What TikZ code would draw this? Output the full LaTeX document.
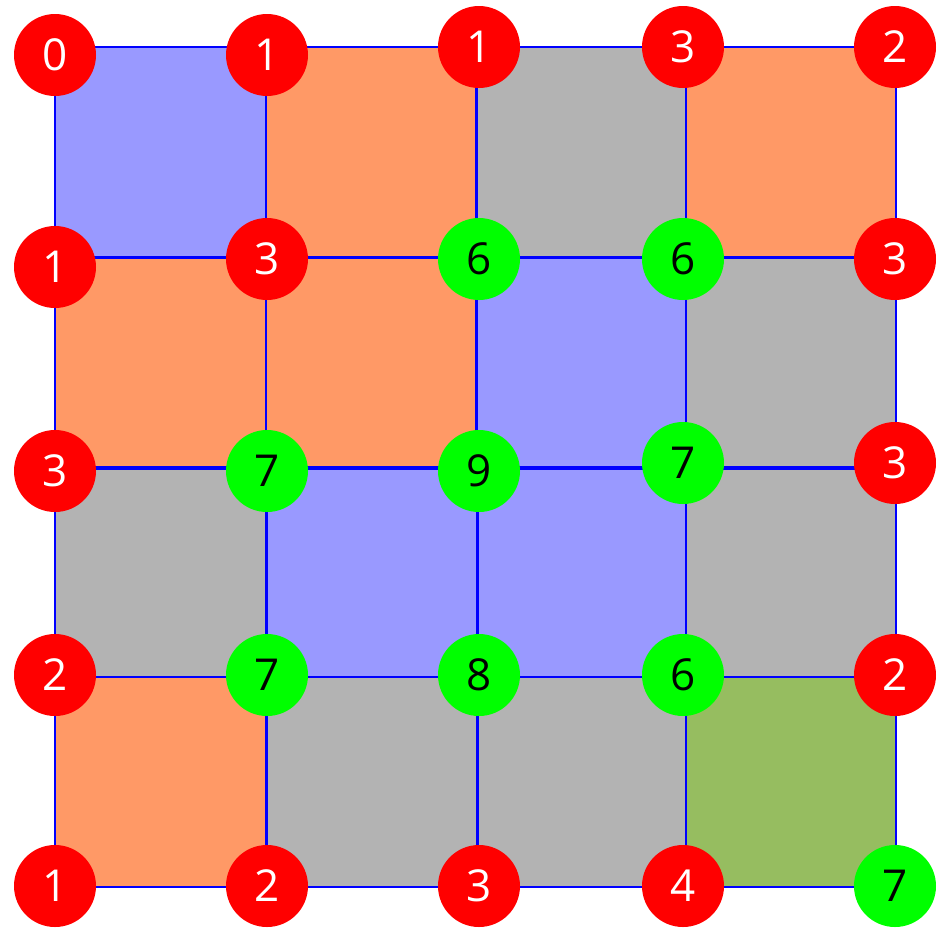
\documentclass[tikz,border=0pt]{standalone}
\usepackage{fontspec}
\setmainfont{Open Sans}
\definecolor{sqblue}{RGB}{153,153,255}
\definecolor{sqorange}{RGB}{255,153,102}
\definecolor{sqgray}{RGB}{179,179,179}
\definecolor{sqgreen}{RGB}{150,189,96}
\definecolor{vred}{RGB}{255,0,0}
\definecolor{vgreen}{RGB}{0,255,0}
\begin{document}
\begin{tikzpicture}[x=1pt,y=-1pt,
  cell/.style={draw=blue, line width=2pt},
  vbase/.style={circle, minimum size=82pt, inner sep=0pt, font=\fontsize{44}{44}\selectfont},
  rv/.style={vbase, fill=vred, text=white},
  gv/.style={vbase, fill=vgreen, text=black}]
\useasboundingbox (0,0) rectangle (940,927);
% squares
\def\sq#1#2#3#4#5{\filldraw[cell, fill=#5] (#1,#2) rectangle (#3,#4);}
% row 0
\sq{55}{47}{266}{257}{sqblue}
\sq{266}{47}{476}{257}{sqorange}
\sq{477}{47}{686}{257}{sqgray}
\sq{686}{47}{896}{257}{sqorange}
% row 1
\sq{55}{258}{266}{467}{sqorange}
\sq{266}{258}{476}{467}{sqorange}
\sq{477}{258}{686}{467}{sqblue}
\sq{686}{258}{896}{467}{sqgray}
% row 2
\sq{55}{469}{266}{677}{sqgray}
\sq{267}{469}{477}{677}{sqblue}
\sq{478}{469}{686}{677}{sqblue}
\sq{686}{469}{896}{677}{sqgray}
% row 3
\sq{55}{677}{266}{887}{sqorange}
\sq{267}{677}{477}{887}{sqgray}
\sq{478}{677}{686}{887}{sqgray}
\sq{686}{677}{896}{887}{sqgreen}
% vertices
\node[rv] (n00) at (55,55) {0};
\node[rv] (n01) at (267,55) {1};
\node[rv] (n02) at (479,47) {1};
\node[rv] (n03) at (683,47) {3};
\node[rv] (n04) at (895,47) {2};
\node[rv] (n10) at (55,267) {1};
\node[rv] (n11) at (267,259) {3};
\node[gv] (n12) at (479,259) {6};
\node[gv] (n13) at (683,259) {6};
\node[rv] (n14) at (895,259) {3};
\node[rv] (n20) at (55,471) {3};
\node[gv] (n21) at (267,471) {7};
\node[gv] (n22) at (479,471) {9};
\node[gv] (n23) at (683,463) {7};
\node[rv] (n24) at (895,463) {3};
\node[rv] (n30) at (55,675) {2};
\node[gv] (n31) at (267,675) {7};
\node[gv] (n32) at (479,675) {8};
\node[gv] (n33) at (683,675) {6};
\node[rv] (n34) at (895,675) {2};
\node[rv] (n40) at (55,886) {1};
\node[rv] (n41) at (267,886) {2};
\node[rv] (n42) at (479,886) {3};
\node[rv] (n43) at (683,886) {4};
\node[gv] (n44) at (895,886) {7};
\end{tikzpicture}
\end{document}
